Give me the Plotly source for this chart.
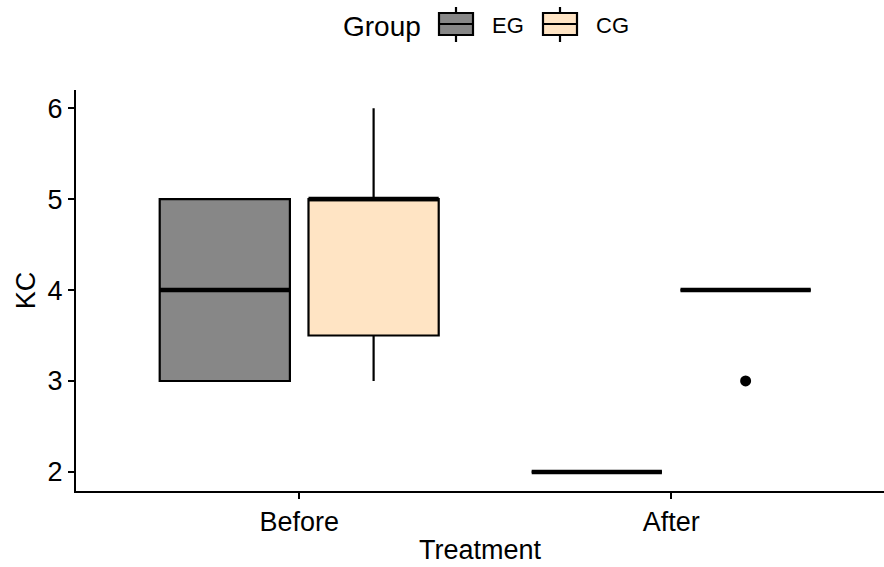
import plotly.graph_objects as go

# Treatment phases on the x axis and the two groups dodged within each phase
treatments = ["Before", "After"]
groups = ["EG", "CG"]
group_colors = {"EG": "#878787", "CG": "#FFE4C4"}

# Five-number summaries of KC per group, one value per treatment phase
kc_stats = {
    "EG": {"lower": [3, 2], "q1": [3, 2], "median": [4, 2], "q3": [5, 2], "upper": [5, 2]},
    "CG": {"lower": [3, 4], "q1": [3.5, 4], "median": [5, 4], "q3": [5, 4], "upper": [6, 4]},
}

# Outlying observations (group, treatment, value)
outliers = [("CG", "After", 3)]

dodge = {"EG": -0.2, "CG": 0.2}
box_width = 0.35
font_family = "Liberation Sans, Arial, sans-serif"

W, H = 884, 567
M_L, M_R, M_T, M_B = 76, 0, 90, 76
PW, PH = W - M_L - M_R, H - M_T - M_B


def px_x(px):
    """Pixel column -> paper x."""
    return (px - M_L) / PW


def px_y(py):
    """Pixel row -> paper y."""
    return (H - M_B - py) / PH


fig = go.Figure()

for g in groups:
    s = kc_stats[g]
    xpos = [i + 1 + dodge[g] for i in range(len(treatments))]
    fig.add_trace(go.Box(
        name=g,
        x=xpos,
        q1=s["q1"], median=s["median"], q3=s["q3"],
        lowerfence=s["lower"], upperfence=s["upper"],
        width=box_width,
        whiskerwidth=0,
        fillcolor=group_colors[g],
        line=dict(color="black", width=2.2),
        boxpoints=False,
        hoverinfo="skip",
        showlegend=False,
    ))

# Thicker median bars on top of the boxes
for g in groups:
    s = kc_stats[g]
    for i, m in enumerate(s["median"]):
        c = i + 1 + dodge[g]
        fig.add_trace(go.Scatter(
            x=[c - box_width / 2, c + box_width / 2], y=[m, m],
            mode="lines", line=dict(color="black", width=4.5),
            showlegend=False, hoverinfo="skip",
        ))

for g, t, v in outliers:
    fig.add_trace(go.Scatter(
        x=[treatments.index(t) + 1 + dodge[g]], y=[v],
        mode="markers", marker=dict(color="black", size=11),
        showlegend=False, hoverinfo="skip",
    ))

# Legend drawn above the panel: title, then a box glyph and label per group
shapes = []
annotations = [dict(
    text="Group", xref="paper", yref="paper", x=px_x(423), y=px_y(27),
    xanchor="right", yanchor="middle", showarrow=False,
    font=dict(size=28, family=font_family, color="black"),
)]
legend_slots = {"EG": 439, "CG": 543}
for g in groups:
    x0 = legend_slots[g]
    x1 = x0 + 34
    xc = (x0 + x1) / 2
    line = dict(color="black", width=2.2)
    shapes.append(dict(type="line", xref="paper", yref="paper",
                       x0=px_x(xc), x1=px_x(xc), y0=px_y(7), y1=px_y(42), line=line))
    shapes.append(dict(type="rect", xref="paper", yref="paper",
                       x0=px_x(x0), x1=px_x(x1), y0=px_y(13), y1=px_y(35),
                       fillcolor=group_colors[g], line=line))
    shapes.append(dict(type="line", xref="paper", yref="paper",
                       x0=px_x(x0), x1=px_x(x1), y0=px_y(24), y1=px_y(24), line=line))
    annotations.append(dict(
        text=g, xref="paper", yref="paper", x=px_x(x1 + 17), y=px_y(26),
        xanchor="left", yanchor="middle", showarrow=False,
        font=dict(size=22, family=font_family, color="black"),
    ))

fig.update_layout(
    width=W, height=H,
    margin=dict(l=M_L, r=M_R, t=M_T, b=M_B),
    plot_bgcolor="white", paper_bgcolor="white",
    font=dict(family=font_family, color="black", size=27),
    showlegend=False,
    shapes=shapes,
    annotations=annotations,
    xaxis=dict(
        range=[0.4, 2.572], tickvals=[1, 2], ticktext=treatments,
        showline=True, linecolor="black", linewidth=2,
        ticks="outside", ticklen=6, tickwidth=2, tickcolor="black",
        showgrid=False, zeroline=False,
        tickfont=dict(size=27),
        title=dict(text="Treatment", font=dict(size=27), standoff=4),
    ),
    yaxis=dict(
        range=[1.79, 6.2], tickvals=[2, 3, 4, 5, 6],
        showline=True, linecolor="black", linewidth=2,
        ticks="outside", ticklen=6, tickwidth=2, tickcolor="black",
        showgrid=False, zeroline=False,
        tickfont=dict(size=27),
        title=dict(text="KC", font=dict(size=27), standoff=4),
    ),
)

fig.write_html("out.html")
